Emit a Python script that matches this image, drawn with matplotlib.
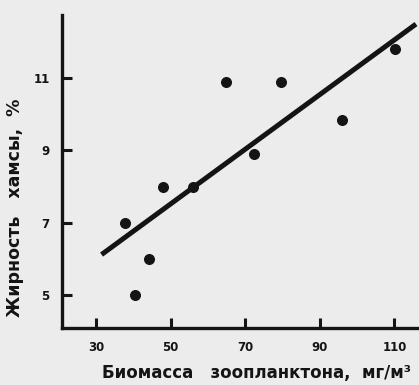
import numpy as np
import matplotlib.pyplot as plt

# данные
biomass = np.array([37.8, 40.6, 44.1, 48.0, 55.9, 64.9, 72.3, 79.7, 95.9, 110.1])
fat = np.array([7.0, 5.0, 6.0, 8.0, 8.0, 10.9, 8.9, 10.9, 9.85, 11.8])

# линия регрессии (концы, как на рисунке)
fit_x = np.array([31.5, 115.8])
fit_y = np.array([6.12, 12.49])

x_ticks = [30, 50, 70, 90, 110]
y_ticks = [5, 7, 9, 11]

ink = '#141414'
paper = '#ececec'

fig = plt.figure(figsize=(4.19, 3.85), dpi=100, facecolor=paper)
ax = fig.add_axes([0.148, 0.148, 0.86, 0.813])
ax.set_facecolor(paper)

ax.plot(fit_x, fit_y, color=ink, lw=3.6, solid_capstyle='butt', clip_on=False)
ax.scatter(biomass, fat, s=48, color=ink, zorder=3, clip_on=False)

ax.set_xlim(20.9, 117.5)
ax.set_ylim(4.09, 12.74)
ax.set_xticks(x_ticks)
ax.set_yticks(y_ticks)

for s in ['top', 'right']:
    ax.spines[s].set_visible(False)
for s in ['left', 'bottom']:
    ax.spines[s].set_linewidth(2.4)
    ax.spines[s].set_color(ink)

ax.tick_params(direction='in', length=7, width=2.2, color=ink,
               labelsize=8.5, labelcolor=ink, pad=9)
for lab in ax.get_xticklabels() + ax.get_yticklabels():
    lab.set_fontweight('bold')

ax.set_xlabel('Биомасса   зоопланктона,  мг/м³', fontsize=12, fontweight='bold',
              color=ink)
ax.set_ylabel('Жирность   хамсы,  %', fontsize=12.5, fontweight='bold',
              color=ink)
ax.xaxis.set_label_coords(0.54, -0.115)
ax.yaxis.set_label_coords(-0.105, 0.385)

fig.savefig('out.png', dpi=100, facecolor=paper)
